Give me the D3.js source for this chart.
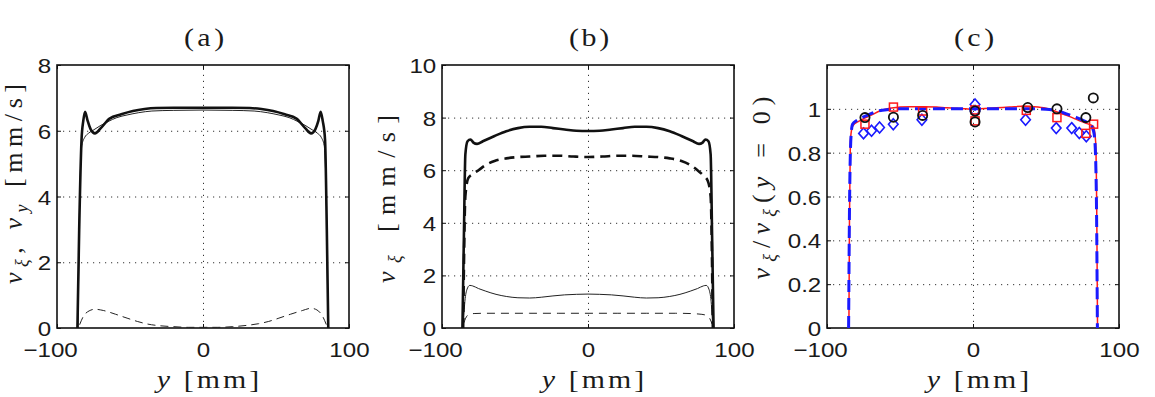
<!DOCTYPE html>
<html>
<head>
<meta charset="utf-8">
<script src="https://cdn.jsdelivr.net/npm/d3@7"></script>
<style>
  body { margin: 0; background: #fff; }
  svg { display: block; }
  .tick text { font-family: "Liberation Sans", Arial, sans-serif; font-size: 21px; fill: #1a1a1a; }
  .lbl { font-family: "Liberation Serif", "Times New Roman", serif; font-size: 26px; fill: #1a1a1a; }
</style>
</head>
<body>
<div id="fig"></div>
<script>
// ---- data (y position in mm, velocity) ----
var xTicks = [-100, 0, 100];
var yTicksA = [0, 2, 4, 6, 8];
var yTicksB = [0, 2, 4, 6, 8, 10];
var yTicksC = [0, 0.2, 0.4, 0.6, 0.8, 1];

// (a) thick solid, thin solid, thin dashed
var aThickPos = [-86, -84.8, -83.2, -82, -80.8, -79, -77, -74, -70, -64, -56, -48, -40, -32, -20, -10, 0, 10, 20, 32, 40, 48, 56, 64, 70, 74, 77, 79, 80.6, 82, 83.6, 84.8, 85.8];
var aThickVal = [0, 3.0, 5.72, 6.3, 6.58, 6.3, 6.05, 5.92, 6.08, 6.37, 6.5, 6.6, 6.66, 6.69, 6.7, 6.7, 6.7, 6.7, 6.7, 6.69, 6.66, 6.6, 6.5, 6.37, 6.08, 5.92, 6.05, 6.3, 6.58, 6.3, 5.72, 3.0, 0];
var aThinPos = [-85.6, -84.8, -83, -81, -78.5, -74, -70.5, -65, -59, -52, -44, -35, -20, 0, 20, 35, 44, 52, 59, 65, 70.5, 74, 78.5, 81, 83, 84.8, 85.6];
var aThinVal = [0, 3, 5.55, 5.8, 5.92, 6.05, 6.15, 6.28, 6.4, 6.48, 6.55, 6.6, 6.62, 6.63, 6.62, 6.6, 6.55, 6.48, 6.4, 6.28, 6.15, 6.05, 5.92, 5.8, 5.55, 3, 0];
var aDashPos = [-84.5, -82, -78, -74, -68, -60, -52, -45, -38, -30, -20, -10, 0, 10, 20, 30, 38, 45, 52, 60, 68, 74, 78, 82, 84.5];
var aDashVal = [0.1, 0.35, 0.52, 0.57, 0.53, 0.42, 0.3, 0.2, 0.12, 0.07, 0.04, 0.02, 0.02, 0.02, 0.04, 0.08, 0.13, 0.2, 0.3, 0.42, 0.53, 0.6, 0.55, 0.35, 0.1];

// (b) thick solid, thick dashed, thin solid, thin dashed
var bThickPos = [-86, -85, -84, -82.5, -80.5, -78.5, -76, -72, -64, -56, -48, -40, -32, -24, -16, -8, 0, 8, 16, 24, 32, 40, 48, 56, 64, 72, 76, 78.5, 80.5, 82.5, 84, 85, 86];
var bThickVal = [0, 3.5, 6.6, 7.1, 7.17, 7.05, 7.0, 7.1, 7.3, 7.48, 7.6, 7.65, 7.65, 7.6, 7.55, 7.5, 7.49, 7.5, 7.55, 7.6, 7.65, 7.65, 7.6, 7.48, 7.3, 7.1, 7.0, 7.05, 7.17, 7.1, 6.6, 3.5, 0];
var bDashPos = [-85.5, -84, -82, -79, -75, -70, -64, -56, -48, -40, -30, -20, -10, 0, 10, 20, 30, 40, 48, 56, 64, 70, 75, 79, 82, 84, 85.5];
var bDashVal = [0, 5.0, 5.7, 5.85, 6.0, 6.2, 6.35, 6.45, 6.5, 6.52, 6.55, 6.55, 6.52, 6.5, 6.52, 6.55, 6.55, 6.52, 6.5, 6.45, 6.35, 6.2, 6.0, 5.8, 5.6, 5.0, 0];
var bThinPos = [-85.5, -84.5, -83, -81, -79, -75, -70, -63, -56, -48, -40, -32, -24, -16, -8, 0, 8, 16, 24, 32, 40, 48, 56, 63, 70, 75, 79, 81, 83, 84.5, 85.5];
var bThinVal = [0, 0.9, 1.45, 1.62, 1.6, 1.5, 1.4, 1.28, 1.2, 1.15, 1.14, 1.17, 1.22, 1.26, 1.28, 1.29, 1.28, 1.26, 1.22, 1.17, 1.14, 1.15, 1.2, 1.28, 1.4, 1.5, 1.6, 1.62, 1.45, 0.9, 0];
var bThinDashPos = [-85, -84, -82, -78, -70, -60, -40, -20, 0, 20, 40, 60, 70, 76, 80, 82, 83.5, 85];
var bThinDashVal = [0.2, 0.35, 0.5, 0.55, 0.56, 0.56, 0.56, 0.56, 0.56, 0.56, 0.56, 0.56, 0.55, 0.53, 0.5, 0.45, 0.35, 0.15];

// (c) normalised profiles and measured points
var cRedPos = [-85, -84.6, -84, -83, -82, -79, -75, -70, -64, -57, -50, -43, -35, -25, -18, -11, -5, 0, 5, 11, 16, 25, 34, 42, 50, 56, 62, 68, 73, 77, 80, 82.5, 84, 84.8, 85.3];
var cRedVal = [0, 0.5, 0.85, 0.91, 0.925, 0.94, 0.955, 0.97, 0.99, 1.003, 1.008, 1.01, 1.01, 1.008, 1.005, 1.003, 1.0, 0.998, 1.0, 1.003, 1.005, 1.008, 1.012, 1.01, 1.003, 0.99, 0.975, 0.96, 0.945, 0.935, 0.928, 0.92, 0.85, 0.5, 0];
var cBluePos = [-85.2, -84.5, -83.5, -82.5, -80, -76, -71, -65, -58, -50, -40, -30, -20, -10, 0, 10, 20, 30, 40, 50, 58, 65, 71, 76, 80, 82.5, 83.5, 84.5, 85.2];
var cBlueVal = [0, 0.6, 0.88, 0.93, 0.945, 0.96, 0.975, 0.99, 0.997, 1.0, 1.0, 1.0, 1.0, 1.0, 1.0, 1.0, 1.0, 1.0, 1.0, 0.998, 0.99, 0.975, 0.96, 0.945, 0.93, 0.9, 0.85, 0.6, 0];
var circlePos = [-74, -54.5, -34.5, 1.4, 1.4, 37.5, 57.5, 77.3, 82.4];
var circleVal = [0.96, 0.962, 0.97, 0.99, 0.94, 1.006, 1.0, 0.96, 1.05];
var squarePos = [-74, -54.5, -34.5, 1.4, 1.4, 36.5, 57.5, 77.3, 82.6];
var squareVal = [0.93, 1.008, 0.99, 0.995, 0.945, 0.993, 0.96, 0.888, 0.93];
var diamondPos = [-75, -69.5, -64, -54.6, -35, 1.4, 1.4, 36, 57, 67.6, 72.8, 77.6];
var diamondVal = [0.888, 0.9, 0.915, 0.93, 0.95, 1.02, 0.99, 0.95, 0.912, 0.912, 0.89, 0.875];

function zip(p, v) {
    return p.map(function(d, i) { return {y: d, v: v[i]}; });
}

// ---- layout ----
var W = 1155, H = 397;
var panelLeft = [57, 442, 827];
var top0 = 65, pw = 292, ph = 263;
var sx = 1.15; // text is a bit wide in the original

var svg = d3.select("#fig").append("svg")
    .attr("width", W)
    .attr("height", H);

// math-ish label built from pieces
function mathText(sel, parts) {
    var shift = 0;
    parts.forEach(function(p) {
        var ts = sel.append("tspan").text(p.t);
        if (p.i) ts.attr("font-style", "italic");
        var want = p.s ? 6 : 0;
        if (want != shift) { ts.attr("dy", want - shift); shift = want; }
        if (p.s) ts.attr("font-size", "18px");
    });
}

function makePanel(i, yMax, yTicks, title, ylab, ylabPos) {
    var g = svg.append("g")
        .attr("transform", "translate(" + panelLeft[i] + "," + top0 + ")");

    var x = d3.scaleLinear().domain([-100, 100]).range([0, pw]);
    var y = d3.scaleLinear().domain([0, yMax]).range([ph, 0]);

    // dotted grid
    g.append("g").attr("class", "grid")
        .call(d3.axisLeft(y).tickValues(yTicks.filter(function(t) { return t > 0 && t < yMax; }))
            .tickSize(-pw).tickFormat(""));
    g.append("g").attr("class", "grid")
        .attr("transform", "translate(0," + ph + ")")
        .call(d3.axisBottom(x).tickValues([0]).tickSize(-ph).tickFormat(""));
    g.selectAll(".grid .domain").remove();
    g.selectAll(".grid line")
        .attr("stroke", "#333")
        .attr("stroke-width", 1)
        .attr("stroke-dasharray", "1.2,4.8");

    // inward ticks on all four sides
    var tk = 4;
    g.append("g").attr("class", "tk").attr("transform", "translate(0," + ph + ")")
        .call(d3.axisBottom(x).tickValues(xTicks).tickSize(-tk).tickFormat(""));
    g.append("g").attr("class", "tk")
        .call(d3.axisTop(x).tickValues(xTicks).tickSize(-tk).tickFormat(""));
    g.append("g").attr("class", "tk")
        .call(d3.axisLeft(y).tickValues(yTicks).tickSize(-tk).tickFormat(""));
    g.append("g").attr("class", "tk").attr("transform", "translate(" + pw + ",0)")
        .call(d3.axisRight(y).tickValues(yTicks).tickSize(-tk).tickFormat(""));
    g.selectAll(".tk .domain").remove();
    g.selectAll(".tk line").attr("stroke", "#111");

    // tick labels (minus sign hangs to the left, digits stay centred)
    var xl = g.append("g").attr("class", "xl")
        .attr("transform", "translate(0," + ph + ")")
        .call(d3.axisBottom(x).tickValues(xTicks).tickSize(0).tickPadding(0)
            .tickFormat(function(d) { return d < 0 ? "\u2212" + (-d) : d; }));
    xl.select(".domain").remove();
    xl.selectAll("text").attr("y", 29).attr("dy", null)
        .attr("x", function(d) { return d < 0 ? -6 : 0; })
        .attr("transform", "scale(" + sx + ",1)");

    var yl = g.append("g").attr("class", "yl")
        .call(d3.axisLeft(y).tickValues(yTicks).tickSize(0).tickPadding(0)
            .tickFormat(function(d) { return d3.format("~g")(d); }));
    yl.select(".domain").remove();
    yl.selectAll("text").attr("x", -5).attr("dy", "0.36em")
        .attr("transform", "scale(" + sx + ",1)");

    // box
    g.append("rect")
        .attr("width", pw).attr("height", ph)
        .attr("fill", "none").attr("stroke", "#111").attr("stroke-width", 1.6);

    // title
    g.append("text").attr("class", "lbl")
        .attr("text-anchor", "middle")
        .attr("transform", "translate(" + (pw / 2 + 1) + ",-19) scale(" + sx + ",1)")
        .attr("textLength", 35).attr("lengthAdjust", "spacing")
        .text(title);

    // x label
    var xt = g.append("text").attr("class", "lbl")
        .attr("text-anchor", "middle")
        .attr("transform", "translate(" + (pw / 2 + 5) + "," + (ph + 60) + ") scale(" + sx + ",1)")
        .attr("textLength", 89).attr("lengthAdjust", "spacing");
    mathText(xt, [{t: "y", i: 1}, {t: " [mm]"}]);

    // y label
    var yt = svg.append("text").attr("class", "lbl")
        .attr("text-anchor", "middle")
        .attr("transform", "translate(" + ylabPos[0] + "," + ylabPos[1] + ") rotate(-90)")
        .attr("textLength", ylabPos[2]).attr("lengthAdjust", "spacing");
    mathText(yt, ylab);

    return {g: g, x: x, y: y};
}

function addLine(p, pos, val, color, width, dash) {
    var line = d3.line()
        .x(function(d) { return p.x(d.y); })
        .y(function(d) { return p.y(d.v); })
        .curve(d3.curveMonotoneX);
    p.g.append("path")
        .datum(zip(pos, val))
        .attr("fill", "none")
        .attr("stroke", color)
        .attr("stroke-width", width)
        .attr("stroke-linejoin", "round")
        .attr("stroke-dasharray", dash || null)
        .attr("d", line);
}

// ---- panel (a) ----
var pa = makePanel(0, 8, yTicksA, "(a)",
    [{t: "v", i: 1}, {t: "\u03be", i: 1, s: 1}, {t: ", "}, {t: "v", i: 1}, {t: "y", i: 1, s: 1}, {t: " [mm/s]"}],
    [22, 184, 200]);
addLine(pa, aDashPos, aDashVal, "#222", 1, "8,5");
addLine(pa, aThinPos, aThinVal, "#222", 1);
addLine(pa, aThickPos, aThickVal, "#111", 2.6);

// ---- panel (b) ----
var pb = makePanel(1, 10, yTicksB, "(b)",
    [{t: "v", i: 1}, {t: "\u03be", i: 1, s: 1}, {t: " [mm/s]"}],
    [395, 199, 168]);
addLine(pb, bThinDashPos, bThinDashVal, "#222", 1, "8,6");
addLine(pb, bThinPos, bThinVal, "#222", 1);
addLine(pb, bDashPos, bDashVal, "#111", 2.6, "10,6");
addLine(pb, bThickPos, bThickVal, "#111", 2.6);

// ---- panel (c) ----
var pc = makePanel(2, 1.2, yTicksC, "(c)",
    [{t: "v", i: 1}, {t: "\u03be", i: 1, s: 1}, {t: "/"}, {t: "v", i: 1}, {t: "\u03be", i: 1, s: 1},
     {t: "("}, {t: "y", i: 1}, {t: " = 0)"}],
    [770, 188, 183]);
addLine(pc, cRedPos, cRedVal, "#ff1a1a", 1.5);
addLine(pc, cBluePos, cBlueVal, "#1a1aff", 3, "12,6");

pc.g.selectAll(".dia")
    .data(zip(diamondPos, diamondVal))
    .enter().append("path")
    .attr("class", "dia")
    .attr("transform", function(d) { return "translate(" + pc.x(d.y) + "," + pc.y(d.v) + ")"; })
    .attr("d", "M0,-5.5L4.8,0L0,5.5L-4.8,0Z")
    .attr("fill", "none").attr("stroke", "#1a1aff").attr("stroke-width", 1.6);

pc.g.selectAll(".sq")
    .data(zip(squarePos, squareVal))
    .enter().append("rect")
    .attr("class", "sq")
    .attr("x", function(d) { return pc.x(d.y) - 4; })
    .attr("y", function(d) { return pc.y(d.v) - 4; })
    .attr("width", 8).attr("height", 8)
    .attr("fill", "none").attr("stroke", "#ff1a1a").attr("stroke-width", 1.5);

pc.g.selectAll(".circ")
    .data(zip(circlePos, circleVal))
    .enter().append("circle")
    .attr("class", "circ")
    .attr("cx", function(d) { return pc.x(d.y); })
    .attr("cy", function(d) { return pc.y(d.v); })
    .attr("r", 4.6)
    .attr("fill", "none").attr("stroke", "#111").attr("stroke-width", 1.8);
</script>
</body>
</html>
